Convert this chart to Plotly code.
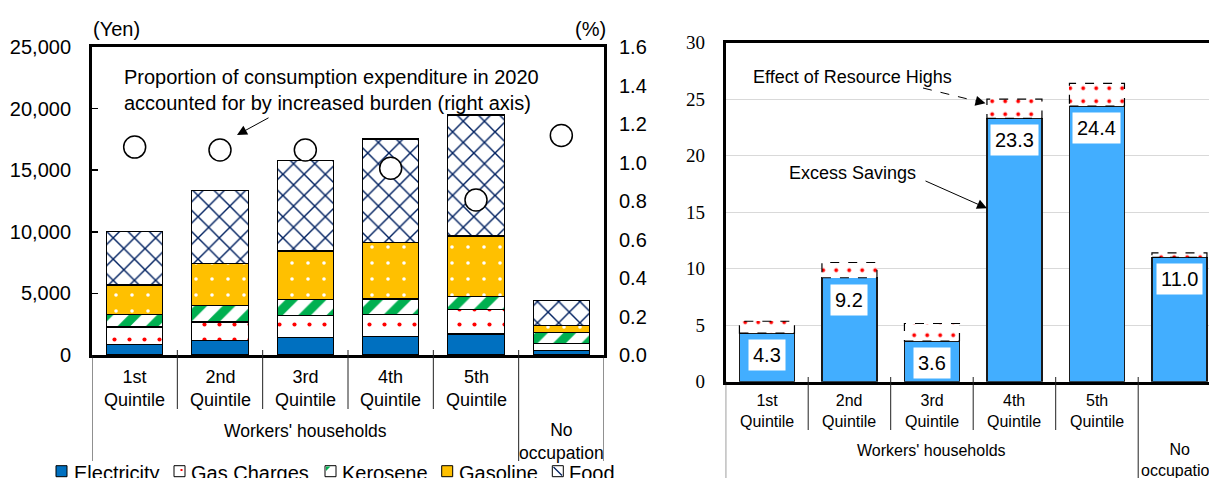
import plotly.graph_objects as go

W, H = 1209, 478
OFF = 0  # body margin removed below, figure sits at the page origin

# ---------------- data ----------------
categories = ["1st<br>Quintile", "2nd<br>Quintile", "3rd<br>Quintile", "4th<br>Quintile", "5th<br>Quintile", ""]
groups = ["Workers' households", "No<br>occupation"]
series_names = ["Electricity", "Gas Charges", "Kerosene", "Gasoline", "Food"]

electricity = [870, 1160, 1400, 1490, 1700, 380]
gas_charges = [1400, 1520, 1790, 1780, 2010, 570]
kerosene = [1030, 1350, 1330, 1275, 1050, 860]
gasoline = [2380, 3410, 3920, 4600, 4900, 600]
food = [4360, 5900, 7360, 8380, 9820, 2030]
proportion = [1.08, 1.065, 1.065, 0.97, 0.805, 1.14]

excess_savings = [4.3, 9.2, 3.6, 23.3, 24.4, 11.0]
resource_effect = [1.05, 1.35, 1.55, 1.7, 2.0, 0.4]

left_ticks = [0, 5000, 10000, 15000, 20000, 25000]
right_ticks = [0, 0.2, 0.4, 0.6, 0.8, 1.0, 1.2, 1.4, 1.6]
panel2_ticks = [0, 5, 10, 15, 20, 25, 30]

# ---------------- helpers ----------------
def px(x):
    return (x - OFF) / W

def py(y):
    return 1 - (y - OFF) / H

SANS = "Liberation Sans, Arial, sans-serif"
SERIF = "Liberation Serif, Times New Roman, serif"
BLACK = "#000000"

xs = list(range(len(categories)))
BW1 = 0.66
BW2 = 0.667

# right panel geometry (page pixels)
R_LEFT = 725.7
R_CAT = 82.5
r_dom_end_page = W + OFF
r_range_end = -0.5 + (r_dom_end_page - R_LEFT) / R_CAT

series_values = [electricity, gas_charges, kerosene, gasoline, food]
series_styles = [
    dict(color="#0070C0"),
    dict(color="white", pattern=dict(shape=".", fgcolor="#FF0000", bgcolor="white",
                                     size=15, solidity=0.06, fillmode="replace")),
    dict(color="white", pattern=dict(shape="/", fgcolor="#00B050", bgcolor="white",
                                     size=20, solidity=0.45, fillmode="replace")),
    dict(color="#FFC000", pattern=dict(shape=".", fgcolor="white", bgcolor="#FFC000",
                                       size=16, solidity=0.04, fillmode="replace")),
    dict(color="white", pattern=dict(shape="x", fgcolor="#002060", bgcolor="white",
                                     size=15, solidity=0.18, fillmode="replace")),
]

fig = go.Figure()

for name, vals, st in zip(series_names, series_values, series_styles):
    marker = dict(st)
    marker["line"] = dict(color=BLACK, width=1.3)
    fig.add_trace(go.Bar(x=xs, y=vals, name=name, width=BW1, marker=marker,
                         xaxis="x", yaxis="y", showlegend=False))

fig.add_trace(go.Scatter(x=xs, y=proportion, mode="markers", xaxis="x", yaxis="y2",
                         marker=dict(symbol="circle", size=22, color="white",
                                     line=dict(color=BLACK, width=1.5)),
                         showlegend=False))

# right panel
fig.add_trace(go.Bar(x=xs, y=excess_savings, width=BW2, xaxis="x2", yaxis="y3",
                     marker=dict(color="#42AEFF", line=dict(color="#1A1A1A", width=1.5)),
                     showlegend=False))
fig.add_trace(go.Bar(x=xs, y=resource_effect, width=BW2, xaxis="x2", yaxis="y3",
                     marker=dict(color="white",
                                 pattern=dict(shape=".", fgcolor="#FF0000", bgcolor="white",
                                              size=13, solidity=0.07, fillmode="replace"),
                                 line=dict(width=0)),
                     showlegend=False))

shapes = []
annotations = []

# dashed outlines of the resource-effect segments (from the data)
for i, (b, e) in enumerate(zip(excess_savings, resource_effect)):
    shapes.append(dict(type="rect", xref="x2", yref="y3", x0=i - BW2 / 2, x1=i + BW2 / 2,
                       y0=b, y1=b + e, line=dict(color=BLACK, width=1.2, dash="dash"),
                       layer="above"))

# value labels
for i, v in enumerate(excess_savings):
    annotations.append(dict(xref="x2", yref="y3", x=i, y=v, yanchor="top", yshift=-6,
                            text=f"{v:.1f}", showarrow=False, bgcolor="white", borderpad=4,
                            font=dict(family=SANS, size=20, color=BLACK)))

# ---------- category tables ----------
LINE = dict(color="#222222", width=1)
# left panel
for i in range(4):
    shapes.append(dict(type="line", xref="x", yref="paper", x0=i + 0.5, x1=i + 0.5,
                       y0=py(350), y1=py(409), line=LINE))
for xb, top in [(-0.5, 355), (4.5, 350), (5.5, 355)]:
    shapes.append(dict(type="line", xref="x", yref="paper", x0=xb, x1=xb,
                       y0=py(top), y1=py(461), line=LINE))
for i, c in enumerate(categories):
    if c:
        annotations.append(dict(xref="x", yref="paper", x=i, y=py(388), text=c,
                                showarrow=False, xanchor="center", yanchor="middle",
                                font=dict(family=SANS, size=18, color=BLACK)))
annotations.append(dict(xref="x", yref="paper", x=2, y=py(431), text=groups[0],
                        showarrow=False, xanchor="center", yanchor="middle",
                        font=dict(family=SANS, size=17.5, color=BLACK)))
annotations.append(dict(xref="x", yref="paper", x=5, y=py(441.5), text=groups[1],
                        showarrow=False, xanchor="center", yanchor="middle",
                        font=dict(family=SANS, size=17.5, color=BLACK)))

# right panel
for i in range(4):
    shapes.append(dict(type="line", xref="x2", yref="paper", x0=i + 0.5, x1=i + 0.5,
                       y0=py(377), y1=py(430), line=LINE))
for xb, top in [(-0.5, 381), (4.5, 377)]:
    shapes.append(dict(type="line", xref="x2", yref="paper", x0=xb, x1=xb,
                       y0=py(top), y1=py(480), line=LINE))
for i, c in enumerate(categories):
    if c:
        annotations.append(dict(xref="x2", yref="paper", x=i, y=py(411), text=c,
                                showarrow=False, xanchor="center", yanchor="middle",
                                font=dict(family=SANS, size=16, color=BLACK)))
annotations.append(dict(xref="x2", yref="paper", x=2, y=py(450), text=groups[0],
                        showarrow=False, xanchor="center", yanchor="middle",
                        font=dict(family=SANS, size=16, color=BLACK)))
annotations.append(dict(xref="x2", yref="paper", x=5, y=py(460), text=groups[1],
                        showarrow=False, xanchor="center", yanchor="middle",
                        font=dict(family=SANS, size=16, color=BLACK)))

# ---------- axis unit labels ----------
annotations.append(dict(xref="paper", yref="paper", x=px(116), y=py(29), text="(Yen)",
                        showarrow=False, xanchor="center", yanchor="middle",
                        font=dict(family=SANS, size=20, color=BLACK)))
annotations.append(dict(xref="paper", yref="paper", x=px(590), y=py(29), text="(%)",
                        showarrow=False, xanchor="center", yanchor="middle",
                        font=dict(family=SANS, size=20, color=BLACK)))

# ---------- callouts ----------
annotations.append(dict(xref="paper", yref="paper", x=px(122), y=py(90), xanchor="left",
                        yanchor="middle", align="left", showarrow=False,
                        text="Proportion of consumption expenditure in 2020<br>"
                             "accounted for by increased burden (right axis)",
                        font=dict(family=SANS, size=20, color=BLACK)))
annotations.append(dict(xref="paper", yref="paper", x=px(237), y=py(135), text="",
                        showarrow=True, axref="pixel", ayref="pixel", ax=33, ay=-18,
                        arrowhead=2, arrowsize=2, arrowwidth=1, arrowcolor=BLACK))

annotations.append(dict(xref="paper", yref="paper", x=px(751), y=py(77), xanchor="left",
                        yanchor="middle", text="Effect of Resource Highs", showarrow=False,
                        font=dict(family=SANS, size=18, color=BLACK)))
shapes.append(dict(type="line", xref="paper", yref="paper", x0=px(923), y0=py(88),
                   x1=px(978), y1=py(101.5), line=dict(color=BLACK, width=1, dash="dash")))
annotations.append(dict(xref="paper", yref="paper", x=px(985.5), y=py(103.3), text="",
                        showarrow=True, axref="pixel", ayref="pixel", ax=-10, ay=-2.5,
                        arrowhead=2, arrowsize=2, arrowwidth=1, arrowcolor=BLACK))

annotations.append(dict(xref="paper", yref="paper", x=px(787), y=py(173), xanchor="left",
                        yanchor="middle", text="Excess Savings", showarrow=False,
                        font=dict(family=SANS, size=18, color=BLACK)))
annotations.append(dict(xref="paper", yref="paper", x=px(987), y=py(208.3), text="",
                        showarrow=True, axref="pixel", ayref="pixel", ax=-63, ay=-28,
                        arrowhead=2, arrowsize=2, arrowwidth=1, arrowcolor=BLACK))

# ---------- manual legend ----------
leg_sq = [56, 174, 325, 441.7, 552.3]
leg_tx = [71.5, 189, 340, 456.5, 566.5]
leg_fill = ["#0070C0", "white", "white", "#FFC000", "white"]
for name, sx, tx, fc in zip(series_names, leg_sq, leg_tx, leg_fill):
    shapes.append(dict(type="rect", xref="paper", yref="paper", x0=px(sx), x1=px(sx + 11),
                       y0=py(476.7), y1=py(465.7), fillcolor=fc,
                       line=dict(color=BLACK, width=1)))
    annotations.append(dict(xref="paper", yref="paper", x=px(tx), y=py(473), xanchor="left",
                            yanchor="middle", text=name, showarrow=False,
                            font=dict(family=SANS, size=20, color=BLACK)))
# small pattern hints inside legend icons
shapes.append(dict(type="rect", xref="paper", yref="paper", x0=px(180.5), x1=px(182.5),
                   y0=py(471), y1=py(469), fillcolor="#FF0000", line=dict(width=0)))
shapes.append(dict(type="path", xref="paper", yref="paper",
                   path=f"M {px(326)},{py(466.5)} L {px(330.5)},{py(466.5)} L {px(326)},{py(471)} Z",
                   fillcolor="#00B050", line=dict(width=0)))
shapes.append(dict(type="line", xref="paper", yref="paper", x0=px(553.5), y0=py(467),
                   x1=px(562), y1=py(475.5), line=dict(color="#002060", width=1.2)))

fig.update_layout(
    width=W, height=H, autosize=False,
    margin=dict(l=0, r=0, t=0, b=0, pad=0, autoexpand=False),
    paper_bgcolor="white", plot_bgcolor="white",
    barmode="stack", showlegend=False, hovermode=False,
    font=dict(family=SANS, color=BLACK),
    xaxis=dict(domain=[px(92), px(604)], range=[-0.5, 5.5], showticklabels=False,
               ticks="", showline=True, linewidth=3, linecolor=BLACK, mirror=True,
               showgrid=False, zeroline=False, anchor="y", automargin=False),
    yaxis=dict(domain=[py(355), py(47)], range=[0, 25000], tickvals=left_ticks,
               tickformat=",", ticks="inside", ticklen=6, tickwidth=1.5, tickcolor=BLACK,
               showline=True, linewidth=3, linecolor=BLACK, mirror=True,
               showgrid=False, zeroline=False, anchor="x", ticklabelstandoff=14,
               automargin=False, tickfont=dict(family=SANS, size=20, color=BLACK)),
    yaxis2=dict(overlaying="y", side="right", anchor="x", range=[0, 1.6],
                tickvals=right_ticks, tickformat=".1f", ticks="", showline=False,
                showgrid=False, zeroline=False, ticklabelstandoff=14, automargin=False,
                tickfont=dict(family=SANS, size=20, color=BLACK)),
    xaxis2=dict(domain=[px(R_LEFT), 1.0], range=[-0.5, r_range_end],
                showticklabels=False, ticks="", showline=True, linewidth=3,
                linecolor=BLACK, mirror=True, showgrid=False, zeroline=False, anchor="y3",
                automargin=False),
    yaxis3=dict(domain=[py(381.7), py(42.7)], range=[0, 30], tickvals=panel2_ticks,
                ticks="", showline=True, linewidth=3, linecolor=BLACK, mirror=False,
                showgrid=True, gridcolor="#D9D9D9", gridwidth=1.3, zeroline=False,
                anchor="x2", ticklabelstandoff=14, automargin=False,
                tickfont=dict(family=SERIF, size=19, color=BLACK)),
    shapes=shapes,
    annotations=annotations,
)

fig.write_html("out.html",
               config={"displayModeBar": False, "staticPlot": True},
               post_script="document.body.style.margin='0';"
                           "document.body.style.overflow='hidden';")
